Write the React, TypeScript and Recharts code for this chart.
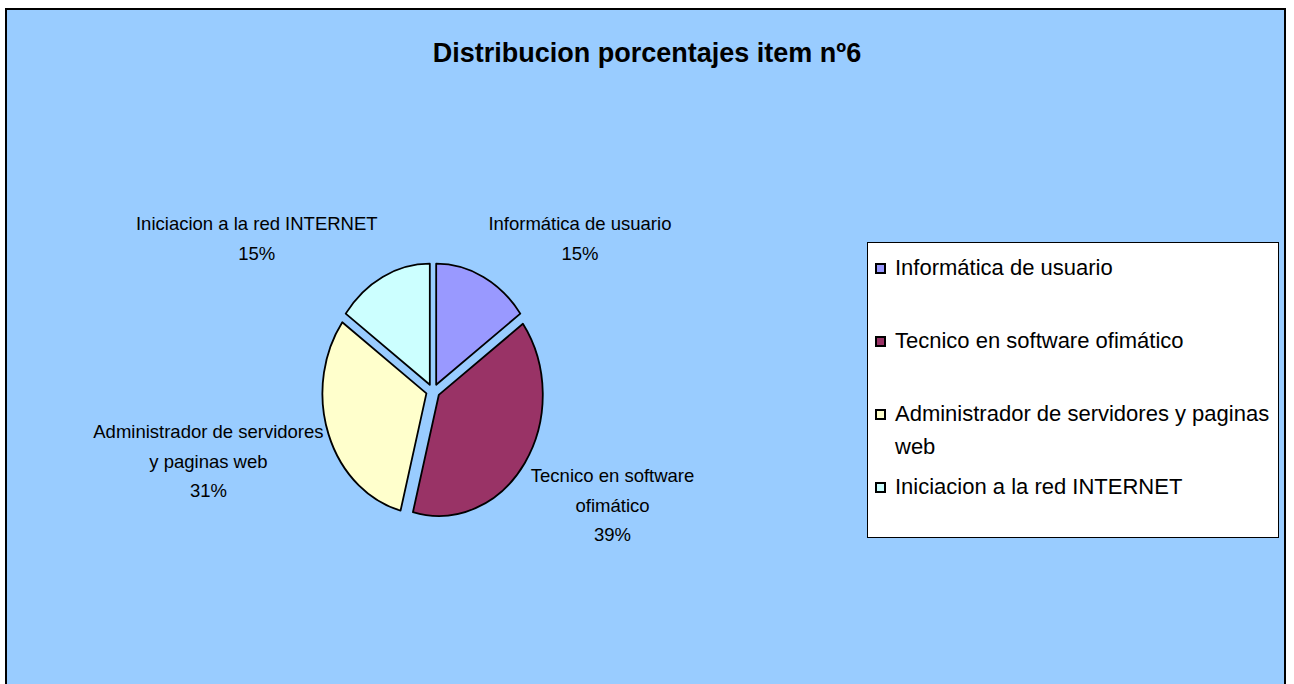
import React from 'react';
import { PieChart, Pie, Cell, Legend } from 'recharts';

const categories = [
  'Informática de usuario',
  'Tecnico en software ofimático',
  'Administrador de servidores y paginas web',
  'Iniciacion a la red INTERNET',
];
const values = [15, 39, 31, 15];
const colors = ['#9999FF', '#993366', '#FFFFCC', '#CCFFFF'];
const labelLines = [
  ['Informática de usuario'],
  ['Tecnico en software', 'ofimático'],
  ['Administrador de servidores', 'y paginas web'],
  ['Iniciacion a la red INTERNET'],
];
const title = 'Distribucion porcentajes item nº6';

const data = categories.map((name, i) => ({ name, value: values[i] }));

const FONT = '"Liberation Sans", Arial, sans-serif';
const RAD = Math.PI / 180;
const Y_STRETCH = 1.164;
const EXPLODE = 7;
const LABEL_FONT = 18.5;
const LINE = 29.5;

const W: Record<string, number> = {
  ' ': 278, '%': 889, a: 556, b: 556, c: 500, d: 556, e: 556, f: 278, g: 556, h: 556, i: 222, j: 222,
  k: 500, l: 222, m: 833, n: 556, o: 556, p: 556, q: 556, r: 333, s: 500, t: 278, u: 556, v: 500,
  w: 722, x: 500, y: 500, z: 500, 'á': 556, A: 667, I: 278, N: 722, E: 667, R: 722, T: 611,
};
const textWidth = (s: string, size: number) =>
  s.split('').reduce((acc, ch) => acc + (W[ch] ?? 556), 0) * size / 1000;

const EllipseSector = (props: any) => {
  const { cx, cy, outerRadius, startAngle, endAngle, fill } = props;
  const mid = (startAngle + endAngle) / 2;
  const ox = cx + EXPLODE * Math.cos(-mid * RAD);
  const oy = cy + EXPLODE * Math.sin(-mid * RAD);
  const rx = outerRadius;
  const ry = outerRadius * Y_STRETCH;
  const x1 = ox + rx * Math.cos(-startAngle * RAD);
  const y1 = oy + ry * Math.sin(-startAngle * RAD);
  const x2 = ox + rx * Math.cos(-endAngle * RAD);
  const y2 = oy + ry * Math.sin(-endAngle * RAD);
  const large = Math.abs(endAngle - startAngle) > 180 ? 1 : 0;
  const sweep = endAngle < startAngle ? 1 : 0;
  const d = `M${ox},${oy} L${x1},${y1} A${rx},${ry} 0 ${large} ${sweep} ${x2},${y2} Z`;
  return <path d={d} fill={fill} stroke="#000" strokeWidth={1.8} strokeLinejoin="round" />;
};

const renderLabel = (props: any) => {
  const { cx, cy, midAngle, outerRadius, index, percent } = props;
  const dirX = Math.cos(-midAngle * RAD);
  const dirY = Math.sin(-midAngle * RAD);
  const ex = cx + EXPLODE * dirX + outerRadius * dirX;
  const ey = cy + EXPLODE * dirY + outerRadius * Y_STRETCH * dirY;
  const lines = [...labelLines[index], `${Math.round(percent * 100)}%`];
  const w = Math.max(...lines.map((l) => textWidth(l, LABEL_FONT)));
  const centerX = dirX >= 0 ? ex + 5 + w / 2 : ex - 5 - w / 2;
  const meanBase = ey + dirY * 23.3 * lines.length + 9.7;
  const first = meanBase - ((lines.length - 1) * LINE) / 2;
  return (
    <text x={centerX} y={first} textAnchor="middle" fontFamily={FONT} fontSize={LABEL_FONT} fill="#000">
      {lines.map((l, i) => (
        <tspan key={i} x={centerX} y={first + i * LINE}>{l}</tspan>
      ))}
    </text>
  );
};

const renderLegend = (props: any) => {
  const payload = [...(props.payload ?? [])].sort(
    (a: any, b: any) => categories.indexOf(a.value) - categories.indexOf(b.value),
  );
  return (
    <div
      style={{
        width: '100%', height: '100%', boxSizing: 'border-box', border: '1px solid #000',
        background: '#fff', paddingTop: 8, fontFamily: FONT, fontSize: 22, color: '#000',
      }}
    >
      {payload.map((entry: any, i: number) => (
        <div key={i} style={{ position: 'relative', height: 73 }}>
          <span
            style={{
              position: 'absolute', left: 7, top: 12, width: 11, height: 11, boxSizing: 'border-box',
              border: '2px solid #000', background: entry.color,
            }}
          />
          <div style={{ position: 'absolute', left: 27, top: 0, width: 380, lineHeight: '33px' }}>
            {entry.value}
          </div>
        </div>
      ))}
    </div>
  );
};

export default function App() {
  return (
    <div style={{ position: 'absolute', left: 0, top: 0, width: 1294, height: 684, overflow: 'hidden', background: '#fff' }}>
      <div
        style={{
          position: 'absolute', left: 5, top: 8, width: 1281, height: 720, border: '2px solid #000',
          boxSizing: 'border-box', background: '#99CCFF',
        }}
      />
      <div
        style={{
          position: 'absolute', left: 0, top: 40, width: 1294, textAlign: 'center', fontFamily: FONT,
          fontWeight: 'bold', fontSize: 27, lineHeight: '27px', color: '#000',
        }}
      >
        {title}
      </div>
      <div style={{ position: 'absolute', left: 0, top: 0 }}>
        <PieChart width={1294} height={684} margin={{ top: 0, right: 0, bottom: 0, left: 0 }}>
          <Pie
            data={data}
            dataKey="value"
            nameKey="name"
            cx={433}
            cy={391}
            outerRadius={104}
            startAngle={90}
            endAngle={-270}
            isAnimationActive={false}
            label={renderLabel}
            labelLine={false}
            shape={EllipseSector}
            activeShape={EllipseSector}
            inactiveShape={EllipseSector}
            stroke="#000"
          >
            {data.map((d, i) => (
              <Cell key={d.name} fill={colors[i]} />
            ))}
          </Pie>
          <Legend
            content={renderLegend}
            layout="vertical"
            align="right"
            verticalAlign="top"
            itemSorter={null}
            wrapperStyle={{ left: 867, top: 242, width: 412, height: 296 }}
          />
        </PieChart>
      </div>
    </div>
  );
}
